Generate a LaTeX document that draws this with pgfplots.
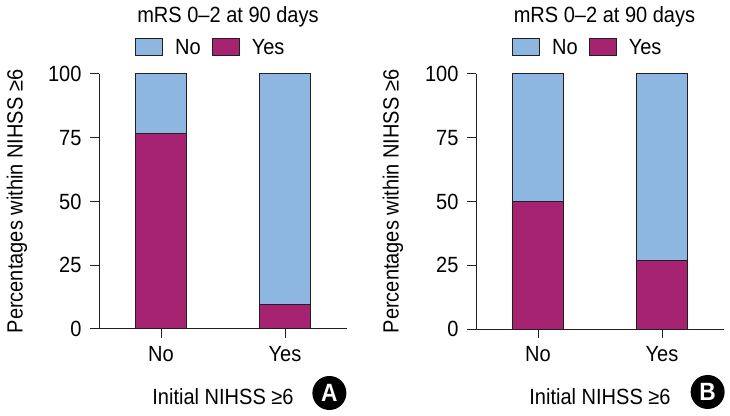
\documentclass[border=0pt]{standalone}
\usepackage{pgfplots}
\pgfplotsset{compat=1.18}
\usepackage{fontspec}
\setmainfont{Liberation Sans}[FakeStretch=0.91]
\definecolor{nob}{RGB}{141,183,225}
\definecolor{yesm}{RGB}{166,35,114}
\definecolor{ink}{RGB}{35,31,32}
\newcommand{\chartfont}{\fontsize{22bp}{26bp}\selectfont}
\pgfplotsset{
  legimg/.style={legend image code/.code={\draw[##1] (0bp,-8.5bp) rectangle (27bp,8.5bp); \path (39bp,0bp);}},
  panel/.style={
    scale only axis, x=124bp, y=2.55bp, xmin=-0.5, xmax=1.5, ymin=0, ymax=100,
    axis lines*=left, axis line style={ink, line width=1bp, -},
    tick style={ink, line width=1bp}, major tick length=9bp, tick align=outside,
    xtick={0,1}, xticklabels={No,Yes}, ytick={0,25,50,75,100},
    ybar stacked, bar width=51bp, clip=false,
    /pgf/number format/assume math mode=true,
    ticklabel style={font=\chartfont},
    xticklabel style={yshift=-5bp},
    yticklabel style={xshift=-5bp},
    label style={font=\chartfont},
    xlabel={Initial NIHSS ≥6},
    ylabel={Percentages within NIHSS ≥6},
    xlabel style={at={(axis description cs:0.5,-0.267)}, anchor=center},
    ylabel style={at={(axis description cs:-0.331,0.5)}, anchor=center},
    legend columns=2, reverse legend,
    legend style={draw=none, fill=none, at={(axis description cs:0.145,1.104)}, anchor=west,
      inner sep=0pt, font=\chartfont, nodes={inner sep=0pt},
      /tikz/every even column/.append style={column sep=11bp}},
  }
}
\begin{document}
\begin{tikzpicture}
\useasboundingbox (0,0) rectangle (730bp,416bp);
\begin{axis}[panel, at={(99bp,87bp)}, anchor=south west]
\addplot[fill=yesm, draw=ink, line width=1bp, legimg] coordinates {(0,76.5) (1,9.5)};
\addlegendentry{Yes}
\addplot[fill=nob, draw=ink, line width=1bp, legimg] coordinates {(0,23.5) (1,90.5)};
\addlegendentry{No}
\node[font=\chartfont] at (axis description cs:0.52,1.2235) {mRS 0–2 at 90 days};
\node[circle, fill=black, text=white, minimum size=34bp, inner sep=0pt, font=\fontsize{25bp}{28bp}\selectfont\bfseries] at (axis description cs:0.929,-0.251) {A};
\end{axis}
\begin{axis}[panel, at={(476bp,87bp)}, anchor=south west, ylabel style={at={(axis description cs:-0.335,0.5)}}]
\addplot[fill=yesm, draw=ink, line width=1bp, legimg] coordinates {(0,50) (1,27)};
\addlegendentry{Yes}
\addplot[fill=nob, draw=ink, line width=1bp, legimg] coordinates {(0,50) (1,73)};
\addlegendentry{No}
\node[font=\chartfont] at (axis description cs:0.518,1.2235) {mRS 0–2 at 90 days};
\node[circle, fill=black, text=white, minimum size=34bp, inner sep=0pt, font=\fontsize{25bp}{28bp}\selectfont\bfseries] at (axis description cs:0.934,-0.247) {B};
\end{axis}
\end{tikzpicture}
\end{document}
